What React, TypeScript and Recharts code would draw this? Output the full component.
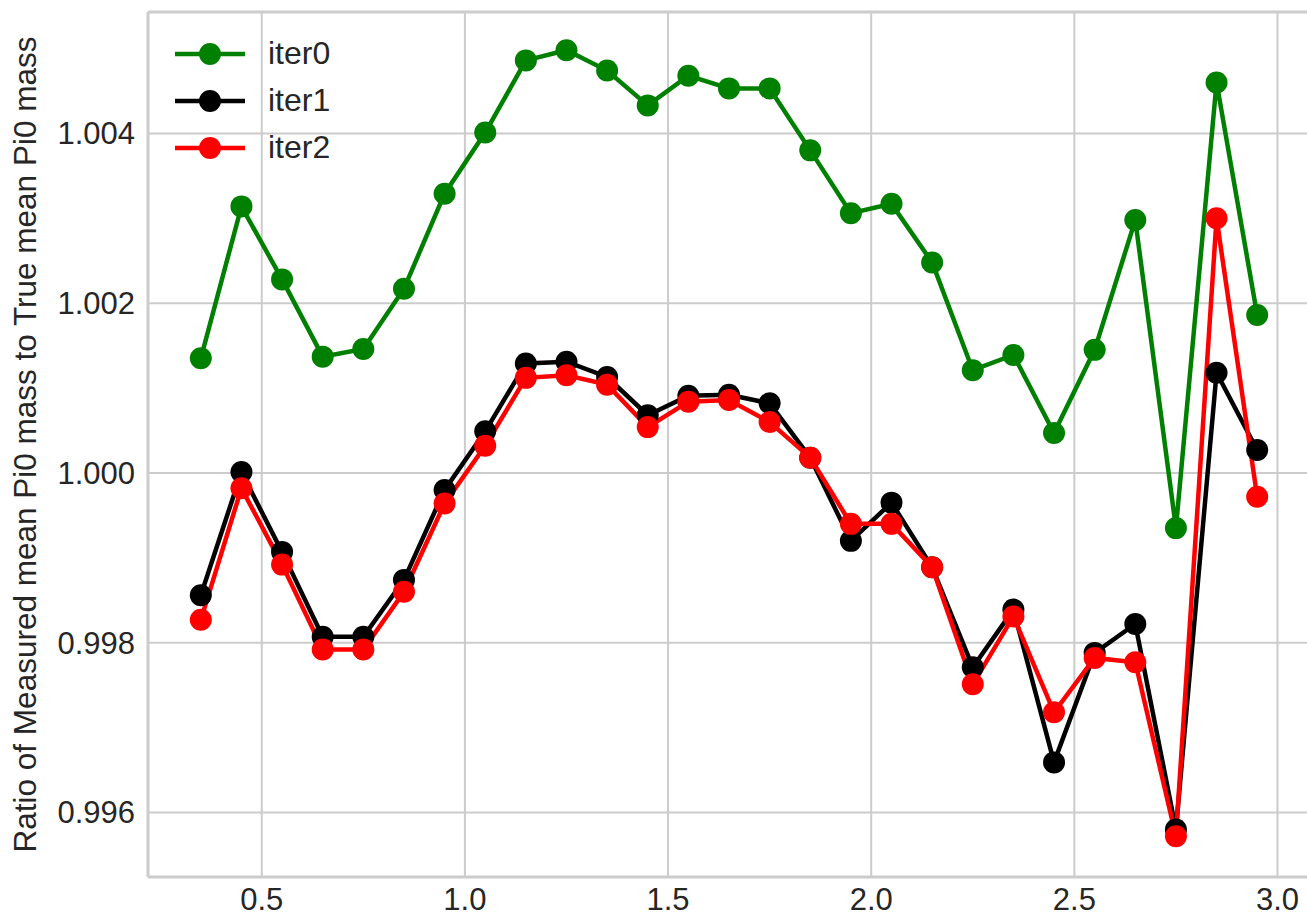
import { LineChart, Line, XAxis, YAxis, CartesianGrid, Legend, ReferenceLine } from 'recharts'

const xValues = [0.35, 0.45, 0.55, 0.65, 0.75, 0.85, 0.95, 1.05, 1.15, 1.25, 1.35, 1.45, 1.55, 1.65, 1.75, 1.85, 1.95, 2.05, 2.15, 2.25, 2.35, 2.45, 2.55, 2.65, 2.75, 2.85, 2.95]

const iter0 = [1.00135, 1.00314, 1.00228, 1.00137, 1.00146, 1.00217, 1.00329, 1.00401, 1.00486, 1.00498, 1.00474, 1.00433, 1.00468, 1.00453, 1.00453, 1.0038, 1.00306, 1.00317, 1.00248, 1.00121, 1.00139, 1.00047, 1.00145, 1.00298, 0.99935, 1.0046, 1.00186]
const iter1 = [0.99856, 1.00001, 0.99907, 0.99807, 0.99807, 0.99874, 0.9998, 1.00049, 1.00129, 1.00131, 1.00113, 1.00068, 1.00091, 1.00092, 1.00082, 1.00018, 0.9992, 0.99965, 0.99889, 0.99771, 0.99839, 0.99659, 0.99788, 0.99822, 0.9958, 1.00118, 1.00027]
const iter2 = [0.99827, 0.99982, 0.99892, 0.99792, 0.99792, 0.9986, 0.99964, 1.00032, 1.00112, 1.00115, 1.00104, 1.00054, 1.00084, 1.00086, 1.0006, 1.00018, 0.9994, 0.9994, 0.99889, 0.99751, 0.99831, 0.99718, 0.99782, 0.99777, 0.99572, 1.003, 0.99972]

const xTicks = [0.5, 1.0, 1.5, 2.0, 2.5, 3.0]
const yTicks = [0.996, 0.998, 1.0, 1.002, 1.004]

const series = [
  { key: 'iter0', color: '#008000' },
  { key: 'iter1', color: '#000000' },
  { key: 'iter2', color: '#ff0000' },
]

const data = xValues.map((x, i) => ({ x, iter0: iter0[i], iter1: iter1[i], iter2: iter2[i] }))

const FONT = '"Liberation Sans", Arial, sans-serif'
const GRID = '#cccccc'
const TEXT = '#262626'
const Y_MIN = 0.99524
const Y_MAX = 1.00543

function YLabel({ viewBox }: any) {
  const cx = 25
  const cy = viewBox.y + viewBox.height / 2
  return (
    <text
      x={cx}
      y={cy}
      transform={`rotate(-90 ${cx} ${cy})`}
      textAnchor="middle"
      dominantBaseline="central"
      fill={TEXT}
      fontSize={31.5}
      fontFamily={FONT}
    >
      Ratio of Measured mean Pi0 mass to True mean Pi0 mass
    </text>
  )
}

function LegendBox() {
  return (
    <div style={{ fontFamily: FONT, fontSize: 32, color: TEXT }}>
      {series.map((s) => (
        <div key={s.key} style={{ display: 'flex', alignItems: 'center', height: 47 }}>
          <svg width={80} height={30}>
            <line x1={5} y1={15} x2={75} y2={15} stroke={s.color} strokeWidth={4.5} />
            <circle cx={40} cy={15} r={11} fill={s.color} />
          </svg>
          <span style={{ marginLeft: 18 }}>{s.key}</span>
        </div>
      ))}
    </div>
  )
}

export default function App() {
  return (
    <div style={{ position: 'absolute', left: 0, top: 0, width: 1307, height: 917, overflow: 'hidden', background: '#fff' }}>
      <LineChart width={1322} height={917} data={data} margin={{ top: 12, right: 12, bottom: 0, left: 0 }}>
        <CartesianGrid stroke={GRID} strokeWidth={2} />
        <XAxis
          dataKey="x"
          type="number"
          domain={[0.22, 3.08]}
          ticks={xTicks}
          tickFormatter={(v: number) => v.toFixed(1)}
          height={40}
          tickLine={false}
          tickSize={0}
          tickMargin={11}
          axisLine={{ stroke: GRID, strokeWidth: 3 }}
          tick={{ fill: TEXT, fontSize: 31, fontFamily: FONT }}
          allowDataOverflow
        />
        <YAxis
          type="number"
          domain={[Y_MIN, Y_MAX]}
          ticks={yTicks}
          tickFormatter={(v: number) => v.toFixed(3)}
          width={148}
          tickLine={false}
          tickSize={0}
          tickMargin={13}
          axisLine={{ stroke: GRID, strokeWidth: 3 }}
          tick={{ fill: TEXT, fontSize: 31, fontFamily: FONT }}
          allowDataOverflow
          label={<YLabel />}
        />
        <ReferenceLine y={Y_MAX} stroke={GRID} strokeWidth={3} ifOverflow="extendDomain" />
        <Legend
          layout="vertical"
          align="center"
          verticalAlign="middle"
          content={<LegendBox />}
          wrapperStyle={{ left: 170, top: 30, width: 200 }}
        />
        {series.map((s) => (
          <Line
            key={s.key}
            dataKey={s.key}
            stroke={s.color}
            strokeWidth={4.5}
            dot={{ r: 11, fill: s.color, stroke: 'none' }}
            activeDot={false}
            isAnimationActive={false}
          />
        ))}
      </LineChart>
    </div>
  )
}
